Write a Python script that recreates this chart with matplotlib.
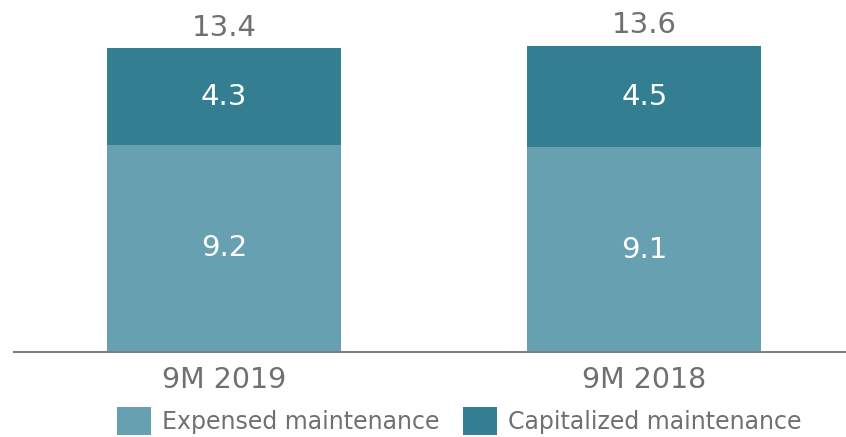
import numpy as np
import matplotlib.pyplot as plt

# data
categories = ['9M 2019', '9M 2018']
expensed = [9.2, 9.1]
capitalized = [4.3, 4.5]
totals = [13.4, 13.6]

c_exp = '#66a0b1'
c_cap = '#337f91'
grey = '#707070'

fig = plt.figure(figsize=(8.46, 4.37), dpi=100)
ax = fig.add_axes([14 / 846, 85 / 437, 1 - 14 / 846, 352 / 437])

x = np.arange(len(categories))
w = 0.556
ax.bar(x, expensed, w, color=c_exp, label='Expensed maintenance')
ax.bar(x, capitalized, w, bottom=expensed, color=c_cap, label='Capitalized maintenance')

for i in range(len(x)):
    ax.text(x[i], expensed[i] / 2, f'{expensed[i]:.1f}', ha='center', va='center',
            color='white', fontsize=21)
    ax.text(x[i], expensed[i] + capitalized[i] / 2, f'{capitalized[i]:.1f}', ha='center',
            va='center', color='white', fontsize=21)
    ax.text(x[i], expensed[i] + capitalized[i] + 0.3, f'{totals[i]:.1f}', ha='center',
            va='bottom', color=grey, fontsize=21)

ax.set_xlim(-0.5, 1.48)
ax.set_ylim(0, 352 / 22.5)
ax.set_xticks(x)
ax.set_xticklabels(categories, fontsize=20.5, color=grey)
ax.tick_params(axis='x', length=0, pad=10)
ax.set_yticks([])
for s in ['top', 'right', 'left']:
    ax.spines[s].set_visible(False)
ax.spines['bottom'].set_color('#808080')
ax.spines['bottom'].set_linewidth(1.5)

leg = fig.legend(loc='center', ncol=2, frameon=False, fontsize=17,
                 bbox_to_anchor=(0.5426, 0.036), handlelength=1.44, handleheight=1.44,
                 handletextpad=0.47, columnspacing=1.0)
for t in leg.get_texts():
    t.set_color(grey)

plt.savefig('out.png', dpi=100)
